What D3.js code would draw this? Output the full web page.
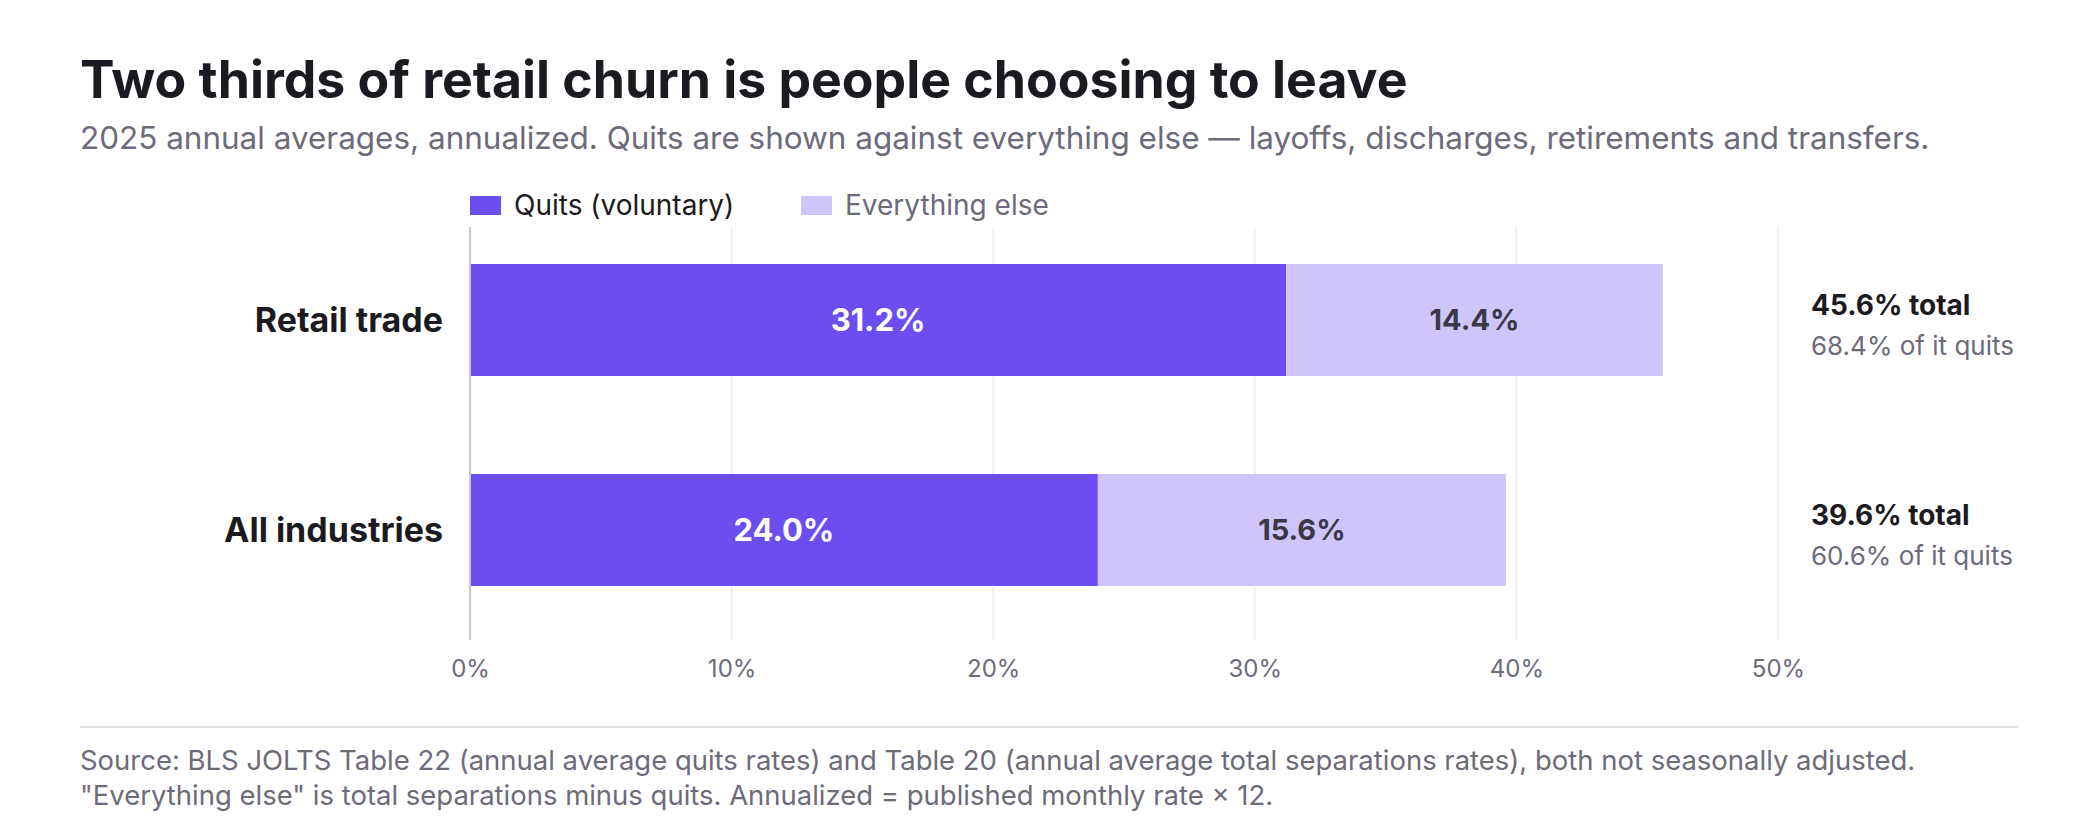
<!DOCTYPE html>
<html>
<head>
<meta charset="utf-8">
<script src="https://cdn.jsdelivr.net/npm/d3@7"></script>
<style>
  body { margin: 0; background: #fff; }
  svg { display: block; }
</style>
</head>
<body>
<div id="chart"></div>
<script>
// data
const categories = ["Retail trade", "All industries"];
const quits = [31.2, 24.0];
const everythingElse = [14.4, 15.6];
const totals = [45.6, 39.6];
const quitShare = [68.4, 60.6];
const seriesNames = ["Quits (voluntary)", "Everything else"];
const xTicks = [0, 10, 20, 30, 40, 50];

const titleText = "Two thirds of retail churn is people choosing to leave";
const subtitleText = "2025 annual averages, annualized. Quits are shown against everything else \u2014 layoffs, discharges, retirements and transfers.";
const sourceLines = [
    "Source: BLS JOLTS Table 22 (annual average quits rates) and Table 20 (annual average total separations rates), both not seasonally adjusted.",
    "\"Everything else\" is total separations minus quits. Annualized = published monthly rate \u00d7 12."
];

const width = 2100;
const height = 820;
const font = "Inter, 'Open Sans', sans-serif";
const ink = '#1b1a21';
const grey = '#6d6a7a';
const quitColor = '#6c4ef0';
const elseColor = '#cfc5fa';

// scale a text's font-size so it spans the wanted width
const fitWidth = (sel, target) => {
    const w = sel.node().getComputedTextLength();
    const fs = parseFloat(sel.style('font-size'));
    sel.style('font-size', (fs * target / w) + 'px');
    return fs * target / w;
};

const svg = d3.select('#chart')
    .append('svg')
    .attr('width', width)
    .attr('height', height)
    .style('font-family', font);

// title block
const title = svg.append('text')
    .attr('x', 80).attr('y', 98)
    .style('font-size', '48px').style('font-weight', 700)
    .style('fill', ink)
    .text(titleText);
fitWidth(title, 1328);

const subtitle = svg.append('text')
    .attr('x', 80).attr('y', 149)
    .style('font-size', '26px')
    .style('fill', grey)
    .text(subtitleText);
fitWidth(subtitle, 1850);

// scales
const x = d3.scaleLinear()
    .domain([0, 50])
    .range([470, 1778]);

const y = d3.scaleBand()
    .domain(categories)
    .range([228, 622])
    .paddingInner(0.4667)
    .paddingOuter(0.1714);

const gridTop = 227;
const gridBottom = 640;

// legend
const legend = svg.append('g');
const legendX = [470, 801];
seriesNames.forEach((name, i) => {
    legend.append('rect')
        .attr('x', legendX[i]).attr('y', 196)
        .attr('width', 31).attr('height', 19)
        .attr('fill', i === 0 ? quitColor : elseColor);
    legend.append('text')
        .attr('x', legendX[i] + 44).attr('y', 215)
        .style('font-size', '28px')
        .style('fill', i === 0 ? ink : grey)
        .text(name);
});

// grid
svg.append('g')
    .selectAll('line.grid')
    .data(xTicks.filter(d => d > 0))
    .enter()
    .append('line')
    .attr('class', 'grid')
    .attr('x1', d => x(d)).attr('x2', d => x(d))
    .attr('y1', gridTop).attr('y2', gridBottom)
    .attr('stroke', '#ececf0')
    .attr('stroke-width', 1.5);

// x axis labels
const xAxis = svg.append('g')
    .attr('transform', `translate(0,${gridBottom})`)
    .call(d3.axisBottom(x).tickValues(xTicks).tickFormat(d => d + '%').tickSize(0).tickPadding(20));
xAxis.select('.domain').remove();
xAxis.selectAll('text')
    .style('font-family', font)
    .style('font-size', '24px')
    .style('fill', grey);

// bars
const rows = categories.map((c, i) => ({
    cat: c, quits: quits[i], other: everythingElse[i], total: totals[i], share: quitShare[i]
}));

const barG = svg.append('g');
barG.selectAll('rect.quits')
    .data(rows)
    .enter()
    .append('rect')
    .attr('class', 'quits')
    .attr('x', x(0))
    .attr('y', d => y(d.cat))
    .attr('width', d => x(d.quits) - x(0))
    .attr('height', y.bandwidth())
    .attr('fill', quitColor);

barG.selectAll('rect.other')
    .data(rows)
    .enter()
    .append('rect')
    .attr('class', 'other')
    .attr('x', d => x(d.quits))
    .attr('y', d => y(d.cat))
    .attr('width', d => x(d.quits + d.other) - x(d.quits))
    .attr('height', y.bandwidth())
    .attr('fill', elseColor);

// zero line drawn over the bars
svg.append('line')
    .attr('x1', x(0)).attr('x2', x(0))
    .attr('y1', gridTop).attr('y2', gridBottom)
    .attr('stroke', '#c9c6d8')
    .attr('stroke-width', 2);

const mid = d => y(d.cat) + y.bandwidth() / 2;

barG.selectAll('text.qv')
    .data(rows)
    .enter()
    .append('text')
    .attr('class', 'qv')
    .attr('x', d => x(d.quits / 2))
    .attr('y', d => mid(d) + 11)
    .attr('text-anchor', 'middle')
    .style('font-size', '31px').style('font-weight', 700)
    .style('fill', '#fff')
    .text(d => d.quits.toFixed(1) + '%');

barG.selectAll('text.ov')
    .data(rows)
    .enter()
    .append('text')
    .attr('class', 'ov')
    .attr('x', d => x(d.quits + d.other / 2))
    .attr('y', d => mid(d) + 10)
    .attr('text-anchor', 'middle')
    .style('font-size', '29px').style('font-weight', 700)
    .style('fill', '#3b3846')
    .text(d => d.other.toFixed(1) + '%');

// category labels
svg.append('g')
    .selectAll('text.cat')
    .data(rows)
    .enter()
    .append('text')
    .attr('class', 'cat')
    .attr('x', 443)
    .attr('y', d => mid(d) + 12)
    .attr('text-anchor', 'end')
    .style('font-size', '34px').style('font-weight', 700)
    .style('fill', ink)
    .text(d => d.cat);

// totals on the right
const notes = svg.append('g');
notes.selectAll('text.tot')
    .data(rows)
    .enter()
    .append('text')
    .attr('class', 'tot')
    .attr('x', 1811)
    .attr('y', d => mid(d) - 5)
    .style('font-size', '28px').style('font-weight', 700)
    .style('fill', ink)
    .text(d => d.total.toFixed(1) + '% total');

notes.selectAll('text.share')
    .data(rows)
    .enter()
    .append('text')
    .attr('class', 'share')
    .attr('x', 1811)
    .attr('y', d => mid(d) + 35)
    .style('font-size', '26px')
    .style('fill', grey)
    .text(d => d.share.toFixed(1) + '% of it quits');

// footer
svg.append('line')
    .attr('x1', 80).attr('x2', 2018)
    .attr('y1', 727).attr('y2', 727)
    .attr('stroke', '#e3e1e8')
    .attr('stroke-width', 2);

const src = svg.append('g')
    .selectAll('text')
    .data(sourceLines)
    .enter()
    .append('text')
    .attr('x', 80)
    .attr('y', (d, i) => 770 + i * 35)
    .style('font-size', '22px')
    .style('fill', grey)
    .text(d => d);
const srcSize = fitWidth(d3.select(src.nodes()[0]), 1836);
src.style('font-size', srcSize + 'px');
</script>
</body>
</html>
